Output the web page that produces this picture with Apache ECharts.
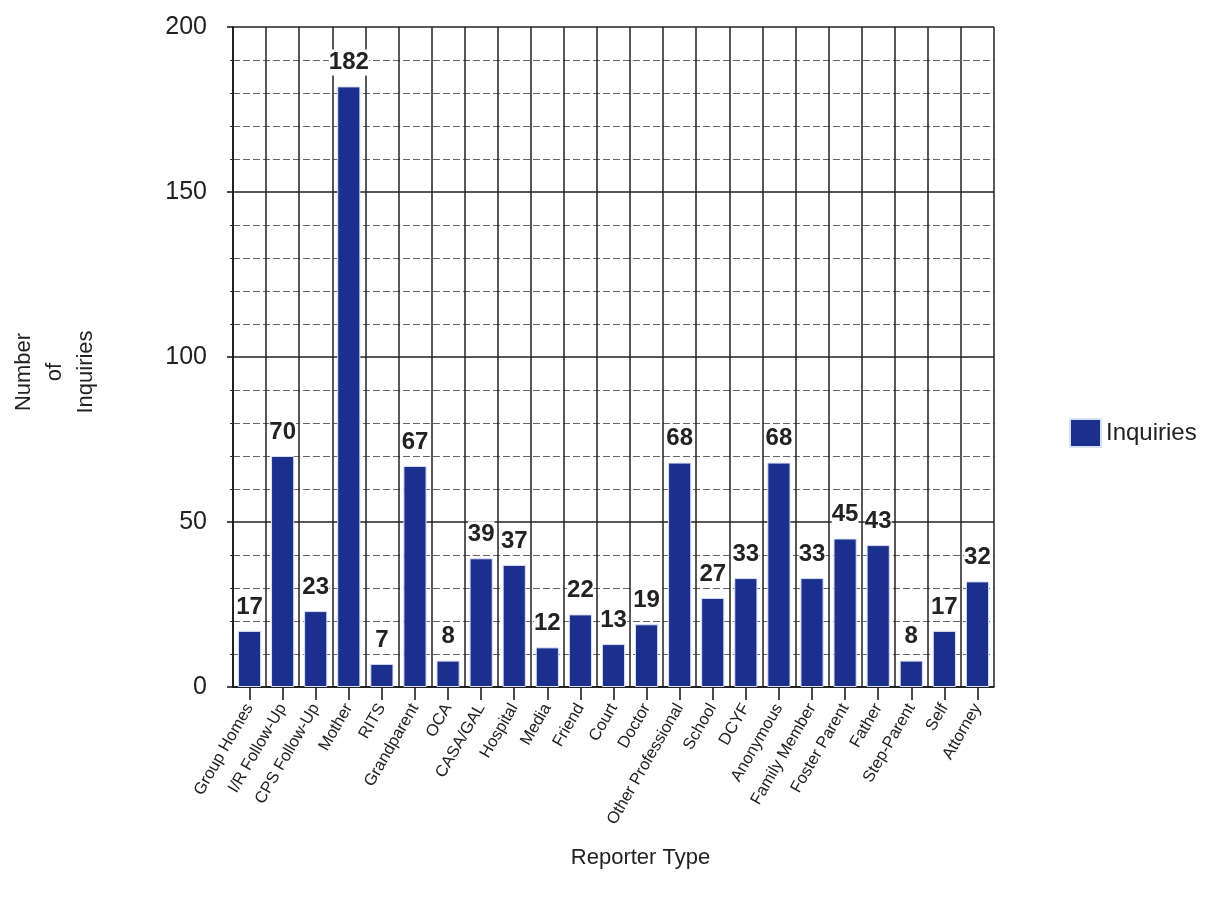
<!DOCTYPE html>
<html>
<head>
<meta charset="utf-8">
<script src="https://cdn.jsdelivr.net/npm/echarts@6/dist/echarts.min.js"></script>
<style>
html,body{margin:0;padding:0;background:#fff;}
#chart{width:1232px;height:902px;}
</style>
</head>
<body>
<div id="chart"></div>
<script>
const categories = ["Group Homes","I/R Follow-Up","CPS Follow-Up","Mother","RITS","Grandparent","OCA","CASA/GAL","Hospital","Media","Friend","Court","Doctor","Other Professional","School","DCYF","Anonymous","Family Member","Foster Parent","Father","Step-Parent","Self","Attorney"];
const inquiries = [17,70,23,182,7,67,8,39,37,12,22,13,19,68,27,33,68,33,45,43,8,17,32];
const yTicks = [0,50,100,150,200];

const chart = echarts.init(document.getElementById('chart'), null, {renderer:'canvas'});
chart.setOption({
  animation:false,
  backgroundColor:'#ffffff',
  textStyle:{fontFamily:'Liberation Sans, Arial, sans-serif'},
  grid:{left:233,right:238,top:27,bottom:215,containLabel:false},
  legend:{
    show:true, left:1064, top:413, itemWidth:31, itemHeight:28, itemGap:10,
    icon:'rect',
    textStyle:{fontSize:24,color:'#222',fontFamily:'Liberation Sans, Arial, sans-serif'},
    data:['Inquiries']
  },
  xAxis:{
    type:'category',
    data:categories,
    boundaryGap:true,
    name:'Reporter Type',
    nameLocation:'middle',
    nameGap:160,
    nameTextStyle:{fontSize:22,color:'#222',padding:[0,0,0,54],verticalAlign:'top'},
    axisLine:{show:true,lineStyle:{color:'#111',width:1.5}},
    axisTick:{show:true,alignWithLabel:true,length:13,lineStyle:{color:'#111',width:1.5}},
    axisLabel:{interval:0,rotate:60,fontSize:16.5,color:'#222',margin:18},
    splitLine:{show:true,interval:0,lineStyle:{color:'#222',width:1.5}}
  },
  yAxis:{
    type:'value',
    min:yTicks[0], max:yTicks[yTicks.length-1], interval:50,
    name:'Number\nof\nInquiries',
    nameLocation:'middle',
    nameRotate:90,
    nameGap:132,
    nameTextStyle:{fontSize:22,color:'#222',lineHeight:31,align:'center',padding:[0,0,0,-30]},
    axisLine:{show:true,lineStyle:{color:'#111',width:1.5}},
    axisTick:{show:true,length:6,lineStyle:{color:'#111',width:1.5}},
    minorTick:{show:true,splitNumber:5,length:3,lineStyle:{color:'#333'}},
    axisLabel:{fontSize:25,color:'#222',margin:26},
    splitLine:{show:true,lineStyle:{color:'#222',width:1.5}},
    minorSplitLine:{show:true,lineStyle:{color:'#666',width:1,type:[7,3]}}
  },
  series:[{
    name:'Inquiries',
    type:'bar',
    data:inquiries,
    barCategoryGap:'30%',
    itemStyle:{color:'#1b2f8c',borderColor:'#d8e0f4',borderWidth:1},
    label:{
      show:true, position:'top', distance:11,
      fontSize:24, fontWeight:'bold', color:'#222',
      backgroundColor:'#ffffff', padding:[1,0,1,0]
    }
  }]
});
</script>
</body>
</html>
